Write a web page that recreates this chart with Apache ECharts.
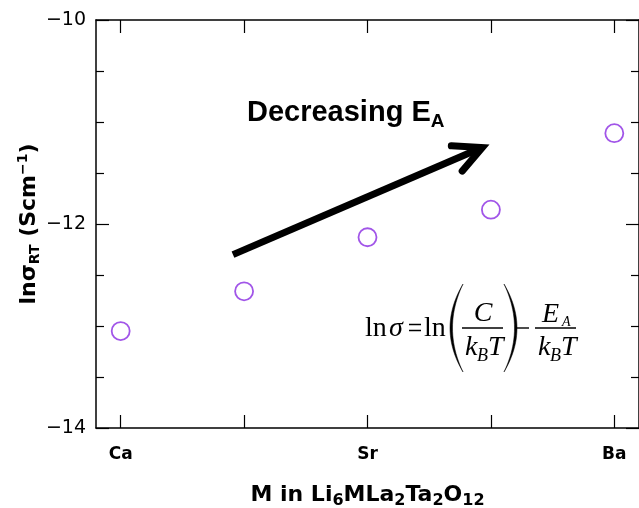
<!DOCTYPE html>
<html>
<head>
<meta charset="utf-8">
<script src="https://cdn.jsdelivr.net/npm/echarts@6/dist/echarts.min.js"></script>
<style>
  html, body { margin: 0; padding: 0; background: #fff; }
  #chart { width: 639px; height: 508px; }
</style>
</head>
<body>
<div id="chart"></div>
<script>
// Alkaline-earth dopant M in Li6MLa2Ta2O12 and room-temperature ln(conductivity)
const categories = ['Ca', '', 'Sr', '', 'Ba'];
const lnSigmaRT = [-13.05, -12.66, -12.13, -11.86, -11.11];
const categoryTicks = [0, 1, 2, 3, 4];
const yTickValues = [-14, -12, -10];

// Trend arrow, given in data coordinates (category index, ln sigma)
const arrowFrom = [0.91, -12.30];
const arrowTo = [2.93, -11.25];

const AXIS_FONT = 'DejaVu Sans';
const SERIF = 'Liberation Serif';
const INK = '#000';

const chart = echarts.init(document.getElementById('chart'), null, { renderer: 'canvas' });

const minus = v => String(v).replace('-', '\u2212');

const xBase = {
  type: 'value',
  min: -0.2,
  max: 4.2,
  splitLine: { show: false },
  axisLine: { show: true, onZero: false, lineStyle: { color: INK, width: 1.5 } },
  axisTick: { show: true, inside: true, length: 13, customValues: categoryTicks, lineStyle: { color: INK, width: 1.2 } }
};

const yBase = {
  type: 'value',
  min: yTickValues[0],
  max: yTickValues[yTickValues.length - 1],
  interval: 2,
  splitLine: { show: false },
  axisLine: { show: true, onZero: false, lineStyle: { color: INK, width: 1.5 } },
  axisTick: { show: true, inside: true, length: 13, lineStyle: { color: INK, width: 1.2 } },
  minorTick: { show: true, splitNumber: 4, length: 8, lineStyle: { color: INK, width: 1.2 } }
};

const option = {
  backgroundColor: '#fff',
  animation: false,
  grid: { left: 96, right: 0, top: 20, bottom: 80, containLabel: false, outerBoundsMode: 'none' },
  xAxis: [
    Object.assign({}, xBase, {
      position: 'bottom',
      axisLabel: {
        show: true,
        customValues: categoryTicks,
        formatter: v => categories[Math.round(v)] || '',
        margin: 18,
        color: INK,
        fontFamily: AXIS_FONT,
        fontWeight: 'bold',
        fontSize: 17
      },
      name: '{m|M in Li}{s|6}{m|MLa}{s|2}{m|Ta}{s|2}{m|O}{s|12}',
      nameLocation: 'middle',
      nameGap: 53,
      nameTextStyle: {
        color: INK,
        fontFamily: AXIS_FONT,
        fontWeight: 'bold',
        fontSize: 22,
        rich: {
          m: { fontFamily: AXIS_FONT, fontWeight: 'bold', fontSize: 22, color: INK },
          s: { fontFamily: AXIS_FONT, fontWeight: 'bold', fontSize: 16, color: INK, padding: [12, 0, 0, 0] }
        }
      }
    }),
    Object.assign({}, xBase, {
      position: 'top',
      axisLabel: { show: false }
    })
  ],
  yAxis: [
    Object.assign({}, yBase, {
      position: 'left',
      axisLabel: {
        show: true,
        margin: 10,
        formatter: minus,
        color: INK,
        fontFamily: AXIS_FONT,
        fontSize: 19
      },
      name: '{m|ln\u03c3}{s|RT}{m| (Scm}{p|\u22121}{m|)}',
      nameLocation: 'middle',
      nameGap: 54,
      nameMoveOverlap: false,
      nameTextStyle: {
        color: INK,
        fontFamily: AXIS_FONT,
        fontWeight: 'bold',
        fontSize: 22,
        rich: {
          m: { fontFamily: AXIS_FONT, fontWeight: 'bold', fontSize: 22, color: INK },
          s: { fontFamily: AXIS_FONT, fontWeight: 'bold', fontSize: 14, color: INK, padding: [12, 0, 0, 0] },
          p: { fontFamily: AXIS_FONT, fontWeight: 'bold', fontSize: 14, color: INK, padding: [0, 0, 12, 0] }
        }
      }
    }),
    Object.assign({}, yBase, {
      position: 'right',
      axisLabel: { show: false }
    })
  ],
  series: [{
    type: 'scatter',
    xAxisIndex: 0,
    yAxisIndex: 0,
    symbol: 'circle',
    symbolSize: 18,
    itemStyle: { color: 'rgba(0,0,0,0)', borderColor: '#8a2be2', borderWidth: 1.8 },
    data: categories.map((c, i) => [i, lnSigmaRT[i]])
  }]
};

chart.setOption(option);

// ---- annotations: trend arrow, caption and the Arrhenius relation ----
const p0 = chart.convertToPixel({ gridIndex: 0 }, arrowFrom);
const p1 = chart.convertToPixel({ gridIndex: 0 }, arrowTo);
const ang = Math.atan2(p1[1] - p0[1], p1[0] - p0[0]);
const headLen = 31, headSpread = 0.46;
const wingA = [p1[0] - headLen * Math.cos(ang - headSpread), p1[1] - headLen * Math.sin(ang - headSpread)];
const wingB = [p1[0] - headLen * Math.cos(ang + headSpread), p1[1] - headLen * Math.sin(ang + headSpread)];
const shaftEnd = [p1[0] - 4 * Math.cos(ang), p1[1] - 4 * Math.sin(ang)];

function txt(x, y, text, size, opts) {
  opts = opts || {};
  return {
    type: 'text',
    x: x, y: y,
    silent: true,
    style: {
      text: text,
      fontFamily: opts.family || SERIF,
      fontSize: size,
      fontStyle: opts.italic ? 'italic' : 'normal',
      fontWeight: opts.weight || 'normal',
      fill: INK,
      align: opts.align || 'left',
      textAlign: opts.align || 'left',
      verticalAlign: 'middle',
      textVerticalAlign: 'middle'
    }
  };
}

// Tapered delimiter: two quadratic curves sharing the ends, sampled into a polygon
function paren(xEnd, yTop, yBot, outerX, innerX) {
  const pts = [];
  const ym = (yTop + yBot) / 2;
  const q = (a, c, b, t) => (1 - t) * (1 - t) * a + 2 * (1 - t) * t * c + t * t * b;
  const n = 24;
  for (let i = 0; i <= n; i++) {
    const t = i / n;
    pts.push([q(xEnd, outerX, xEnd, t), q(yTop, ym, yBot, t)]);
  }
  for (let i = n; i >= 0; i--) {
    const t = i / n;
    pts.push([q(xEnd, innerX, xEnd, t), q(yTop, ym, yBot, t)]);
  }
  return { type: 'polygon', silent: true, shape: { points: pts }, style: { fill: INK, stroke: INK, lineWidth: 0.5 } };
}

// y given as baseline; 'middle' sits about 0.32em above it
const mid = (base, size) => base - 0.32 * size;
const FS = 28, SUB = 18;

const graphics = [
  {
    type: 'polyline', silent: true,
    shape: { points: [p0, shaftEnd] },
    style: { stroke: INK, lineWidth: 7, lineCap: 'butt', fill: null }
  },
  {
    type: 'polyline', silent: true,
    shape: { points: [wingA, p1, wingB] },
    style: { stroke: INK, lineWidth: 7, lineCap: 'round', lineJoin: 'miter', fill: null }
  },
  {
    type: 'text', silent: true, x: 247, y: 113,
    style: {
      text: '{m|Decreasing E}{s|A}',
      align: 'left', textAlign: 'left', verticalAlign: 'middle', textVerticalAlign: 'middle',
      rich: {
        m: { fontFamily: 'Liberation Sans', fontWeight: 'bold', fontSize: 29, fill: INK, color: INK },
        s: { fontFamily: 'Liberation Sans', fontWeight: 'bold', fontSize: 19, fill: INK, color: INK, padding: [17, 0, 0, 0] }
      }
    }
  },
  // ln σ = ln
  txt(365, mid(338, FS), 'ln', FS),
  txt(389, mid(338, FS), '\u03c3', FS, { italic: true }),
  { type: 'line', silent: true, shape: { x1: 409, y1: 324.5, x2: 421, y2: 324.5 }, style: { stroke: INK, lineWidth: 1.5 } },
  { type: 'line', silent: true, shape: { x1: 409, y1: 330.5, x2: 421, y2: 330.5 }, style: { stroke: INK, lineWidth: 1.5 } },
  txt(424, mid(338, FS), 'ln', FS),
  paren(463, 284, 372, 437, 442),
  // C / kB T
  txt(483, mid(323, FS), 'C', FS, { italic: true, align: 'center' }),
  { type: 'line', silent: true, shape: { x1: 462, y1: 328, x2: 503, y2: 328 }, style: { stroke: INK, lineWidth: 1.4 } },
  txt(465, mid(357, FS), 'k', FS, { italic: true }),
  txt(477, mid(362, SUB), 'B', SUB, { italic: true }),
  txt(488, mid(357, FS), 'T', FS, { italic: true }),
  paren(504, 284, 372, 530, 525),
  // minus
  { type: 'line', silent: true, shape: { x1: 516, y1: 328, x2: 529, y2: 328 }, style: { stroke: INK, lineWidth: 1.4 } },
  // EA / kB T
  txt(542, mid(324, FS), 'E', FS, { italic: true }),
  txt(562, mid(327, 14), 'A', 14, { italic: true }),
  { type: 'line', silent: true, shape: { x1: 535, y1: 328, x2: 576, y2: 328 }, style: { stroke: INK, lineWidth: 1.4 } },
  txt(538, mid(357, FS), 'k', FS, { italic: true }),
  txt(550, mid(362, SUB), 'B', SUB, { italic: true }),
  txt(561, mid(357, FS), 'T', FS, { italic: true })
];

chart.setOption({ graphic: { elements: graphics } });
</script>
</body>
</html>
